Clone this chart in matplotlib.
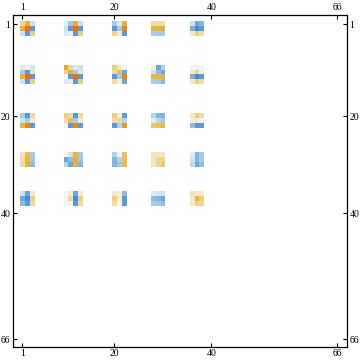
import matplotlib.pyplot as plt
import numpy as np
from matplotlib.colors import LinearSegmentedColormap

# Row/column indices (1-based) of each block of the matrix
block_idx = [[1, 2, 3], [10, 11, 12, 13], [20, 21, 22], [28, 29, 30], [36, 37, 38]]
n = 66
tick_vals = [1, 20, 40, 66]

# Values, block by block (block row, block column)
blocks = {
    (0, 0): [[0.30, 0.55, -0.15], [0.55, 1.00, -0.60], [-0.15, -0.60, 0.35]],
    (0, 1): [[-0.08, -0.30, 0.55, -0.15], [-0.15, -0.60, 1.00, -0.60], [-0.10, 0.10, -0.60, 0.35]],
    (0, 2): [[-0.30, -0.10, 0.55], [-0.60, -0.30, 0.80], [0.30, 0.10, -0.60]],
    (0, 3): [[0.25, 0.25, 0.25], [0.50, 0.50, 0.55], [-0.30, -0.32, -0.30]],
    (0, 4): [[-0.15, -0.50, -0.40], [-0.45, -0.70, -0.60], [0.12, 0.35, 0.25]],
    (1, 0): [[-0.10, -0.05, -0.12], [-0.30, -0.60, 0.20], [0.55, 1.00, -0.60], [-0.15, -0.60, 0.35]],
    (1, 1): [[0.60, 0.30, -0.10, -0.15], [0.35, 0.55, -0.30, 0.15],
             [-0.04, -0.60, 1.00, -0.60], [-0.10, 0.10, -0.60, 0.35]],
    (1, 2): [[0.35, 0.15, -0.05], [0.25, 0.45, -0.50], [-0.60, -0.30, 0.80], [0.25, 0.08, -0.50]],
    (1, 3): [[0.08, -0.50, -0.25], [-0.15, -0.38, -0.50], [0.50, 0.50, 0.55], [-0.30, -0.32, -0.38]],
    (1, 4): [[-0.04, -0.05, -0.04], [0.12, 0.28, 0.07], [-0.45, -0.70, -0.60], [0.12, 0.35, 0.25]],
    (2, 0): [[-0.30, -0.60, 0.25], [-0.15, -0.30, 0.12], [0.50, 0.80, -0.60]],
    (2, 1): [[0.35, 0.28, -0.60, 0.25], [0.25, 0.45, -0.30, 0.12], [-0.05, -0.60, 0.80, -0.60]],
    (2, 2): [[0.35, 0.12, -0.60], [0.25, 0.28, -0.25], [-0.60, -0.25, 0.70]],
    (2, 3): [[-0.25, -0.42, -0.42], [-0.08, -0.22, -0.30], [0.42, 0.45, 0.48]],
    (2, 4): [[0.12, 0.35, 0.22], [0.08, 0.10, 0.06], [-0.38, -0.60, -0.60]],
    (3, 0): [[0.20, 0.45, -0.30], [0.25, 0.50, -0.32], [0.25, 0.55, -0.38]],
    (3, 1): [[0.06, -0.15, 0.50, -0.30], [-0.50, -0.38, 0.55, -0.32], [-0.25, -0.50, 0.55, -0.42]],
    (3, 2): [[-0.25, -0.05, 0.45], [-0.42, -0.25, 0.45], [-0.42, -0.32, 0.48]],
    (3, 3): [[0.15, 0.15, 0.15], [0.15, 0.30, 0.30], [0.15, 0.30, 0.40]],
    (3, 4): [[-0.08, -0.42, -0.30], [-0.15, -0.42, -0.32], [-0.20, -0.50, -0.38]],
    (4, 0): [[-0.15, -0.50, 0.12], [-0.50, -0.70, 0.35], [-0.38, -0.60, 0.25]],
    (4, 1): [[-0.04, 0.12, -0.50, 0.12], [-0.04, 0.28, -0.70, 0.35], [-0.04, 0.07, -0.60, 0.25]],
    (4, 2): [[0.12, 0.08, -0.38], [0.35, 0.10, -0.60], [0.25, 0.06, -0.60]],
    (4, 3): [[-0.10, -0.12, -0.15], [-0.38, -0.42, -0.50], [-0.30, -0.32, -0.38]],
    (4, 4): [[0.20, 0.12, 0.12], [0.12, 0.50, 0.35], [0.12, 0.35, 0.28]],
}

mat = np.zeros((n, n))
for (bi, bj), vals in blocks.items():
    rows = np.array(block_idx[bi]) - 1
    cols = np.array(block_idx[bj]) - 1
    mat[np.ix_(rows, cols)] = np.array(vals)
mat = np.ma.masked_equal(mat, 0.0)  # zero entries are plain white

# blue (negative) -> white -> orange (positive)
anchors = [
    (0.00, '#3070d0'), (0.15, '#4a8ad8'), (0.20, '#5a9ad8'), (0.25, '#6aa8d8'),
    (0.35, '#a8cce4'), (0.45, '#dce9f2'), (0.50, '#ffffff'), (0.55, '#f5ecd0'),
    (0.625, '#f0dca8'), (0.675, '#f0d080'), (0.75, '#e8b848'), (0.85, '#e0a020'),
    (0.90, '#e88a10'), (1.00, '#ff6a00'),
]
cmap = LinearSegmentedColormap.from_list('mma', anchors)
cmap.set_bad('white')

fig = plt.figure(figsize=(3.6, 3.63), dpi=100)
ax = fig.add_axes([13 / 360, 16.3 / 363, 333.5 / 360, 332 / 363])
ax.imshow(mat, cmap=cmap, vmin=-1, vmax=1, interpolation='nearest',
          extent=(0.5, n + 0.5, n + 0.5, 0.5), aspect='auto')
ax.set_xlim(0.5 - 1.4, n + 0.5 + 1.4)
ax.set_ylim(n + 0.5 + 1.05, 0.5 - 1.42)

ax.set_xticks(tick_vals)
ax.set_yticks(tick_vals)
ax.tick_params(direction='in', length=3, width=0.8, labelsize=7,
               top=True, right=True, labeltop=True, labelright=True, pad=2)
for lab in ax.get_xticklabels() + ax.get_yticklabels():
    lab.set_family('Liberation Serif')
for sp in ax.spines.values():
    sp.set_linewidth(0.9)

fig.savefig('out.png', dpi=100)
